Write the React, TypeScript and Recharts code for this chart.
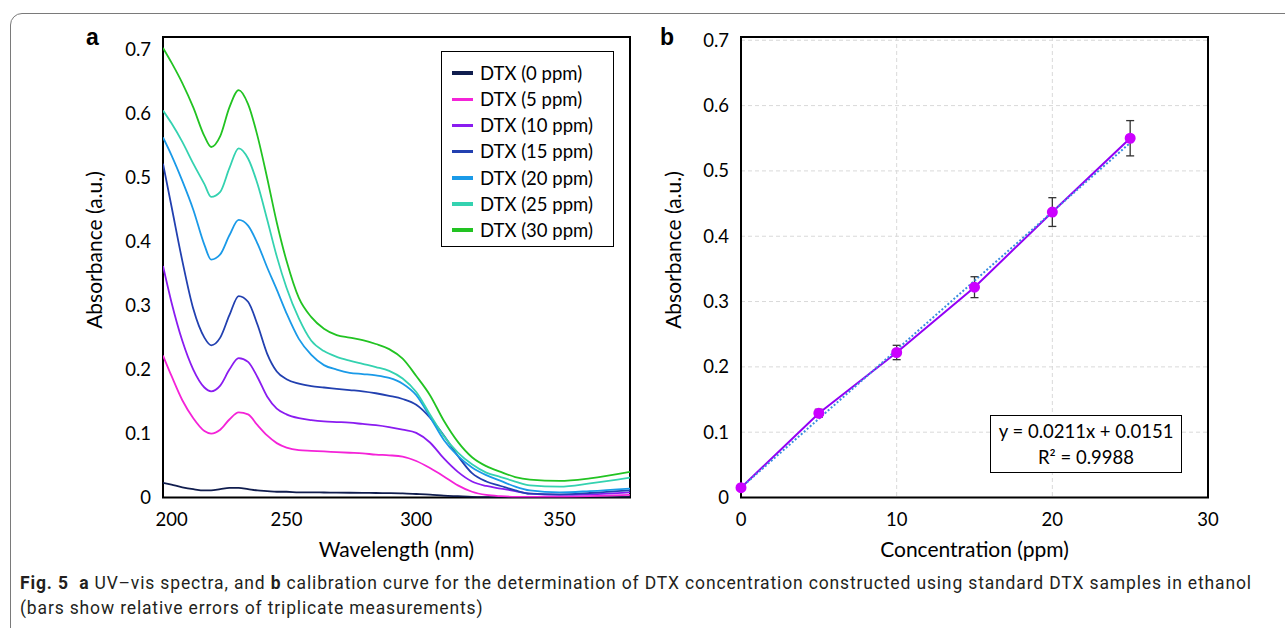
import React from "react";
import {
  LineChart,
  ComposedChart,
  Line,
  XAxis,
  YAxis,
  Legend,
  ReferenceArea,
  CartesianGrid,
  ErrorBar,
} from "recharts";

// ---- panel a: UV-vis spectra ----
const wavelengths = [
  196, 200, 205, 210, 215, 218, 222, 226, 230, 234, 238, 242, 246, 250, 255, 260, 265, 270, 275, 280,
  285, 290, 295, 300, 305, 310, 315, 320, 325, 330, 335, 340, 350, 360, 373,
];
const dtx0 = [
  0.023, 0.02, 0.016, 0.013, 0.011, 0.011, 0.013, 0.015, 0.015, 0.013, 0.011, 0.01, 0.009, 0.009, 0.008, 0.008,
  0.0078, 0.0076, 0.0074, 0.0072, 0.007, 0.0068, 0.0064, 0.0055, 0.0045, 0.003, 0.002, 0.001, 0.0005, 0.0002, 0,
  0, 0, 0, 0.001,
];
const dtx5 = [
  0.222, 0.19, 0.152, 0.124, 0.104, 0.1, 0.106, 0.122, 0.133, 0.13, 0.113, 0.097, 0.085, 0.078, 0.074, 0.073,
  0.072, 0.071, 0.07, 0.069, 0.067, 0.066, 0.064, 0.057, 0.046, 0.033, 0.019, 0.009, 0.004, 0.002, 0.001, 0.001,
  0.001, 0.002, 0.004,
];
const dtx10 = [
  0.362, 0.305, 0.245, 0.2, 0.172, 0.166, 0.175, 0.2, 0.218, 0.212, 0.188, 0.158, 0.139, 0.13, 0.124, 0.121,
  0.119, 0.118, 0.117, 0.115, 0.113, 0.11, 0.106, 0.101, 0.086, 0.061, 0.04, 0.025, 0.018, 0.014, 0.01, 0.006,
  0.004, 0.005, 0.008,
];
const dtx15 = [
  0.522, 0.455, 0.37, 0.295, 0.25, 0.238, 0.25, 0.285, 0.315, 0.306, 0.27, 0.225, 0.197, 0.185, 0.178, 0.174,
  0.172, 0.17, 0.168, 0.166, 0.163, 0.159, 0.154, 0.145, 0.125, 0.097, 0.065, 0.038, 0.025, 0.018, 0.011, 0.006,
  0.005, 0.007, 0.011,
];
const dtx20 = [
  0.563, 0.535, 0.495, 0.45, 0.395, 0.372, 0.38, 0.41, 0.434, 0.425, 0.397, 0.36, 0.325, 0.288, 0.248, 0.223,
  0.207, 0.2, 0.195, 0.193, 0.191, 0.187, 0.178, 0.16, 0.126, 0.09, 0.065, 0.047, 0.035, 0.026, 0.017, 0.011,
  0.008, 0.01, 0.014,
];
const dtx25 = [
  0.605, 0.585, 0.556, 0.522, 0.49, 0.47, 0.478, 0.515, 0.546, 0.53, 0.49, 0.435, 0.377, 0.328, 0.28, 0.245,
  0.229, 0.22, 0.214, 0.209, 0.204, 0.198, 0.186, 0.165, 0.13, 0.096, 0.07, 0.052, 0.039, 0.032, 0.025, 0.019,
  0.017, 0.022, 0.031,
];
const dtx30 = [
  0.703, 0.68, 0.648, 0.61, 0.565, 0.548, 0.565, 0.61, 0.637, 0.615, 0.565, 0.5, 0.43, 0.37, 0.312, 0.282,
  0.264, 0.254, 0.25, 0.246, 0.24, 0.232, 0.217, 0.19, 0.16, 0.12, 0.087, 0.063, 0.049, 0.04, 0.032, 0.028,
  0.026, 0.03, 0.04,
];
const spectraTicksX = [200, 250, 300, 350];
const absTicks = [0, 0.1, 0.2, 0.3, 0.4, 0.5, 0.6, 0.7];

const seriesA = [
  { key: "c0", name: "DTX (0 ppm)", values: dtx0, color: "#101d4e" },
  { key: "c5", name: "DTX (5 ppm)", values: dtx5, color: "#f423d8" },
  { key: "c10", name: "DTX (10 ppm)", values: dtx10, color: "#8a1cf0" },
  { key: "c15", name: "DTX (15 ppm)", values: dtx15, color: "#2240b0" },
  { key: "c20", name: "DTX (20 ppm)", values: dtx20, color: "#1a9ae8" },
  { key: "c25", name: "DTX (25 ppm)", values: dtx25, color: "#34d2b0" },
  { key: "c30", name: "DTX (30 ppm)", values: dtx30, color: "#22c322" },
];
const legendOrder = seriesA.map((s) => s.name);

const spectra = wavelengths.map((nm, i) => {
  const row: Record<string, number> = { nm };
  seriesA.forEach((s) => (row[s.key] = s.values[i]));
  return row;
});

// ---- panel b: calibration ----
const conc = [0, 5, 10, 15, 20, 25];
const absorbance = [0.015, 0.129, 0.222, 0.322, 0.437, 0.55];
const absError = [0.002, 0.006, 0.011, 0.016, 0.022, 0.027];
const trendConc = [0, 25];
const trendAbs = [0.015, 0.543];
const concTicks = [0, 10, 20, 30];

const calib = conc.map((c, i) => ({ conc: c, abs: absorbance[i], err: absError[i] }));
const trend = trendConc.map((c, i) => ({ conc: c, fit: trendAbs[i] }));

// Excel put the wavelengths on a category axis, so they are not evenly spaced.
// A power scale gets the tick spacing close enough.
function powerScale(exponent: number): any {
  let dom = [0, 1];
  let rng = [0, 1];
  const f = (v: number) => Math.pow(v, exponent);
  const scale: any = (v: number) => {
    const t = (f(Number(v)) - f(dom[0])) / (f(dom[1]) - f(dom[0]));
    return rng[0] + t * (rng[1] - rng[0]);
  };
  scale.domain = (d?: any[]) => {
    if (!d) return dom.slice();
    dom = d.map(Number);
    return scale;
  };
  scale.range = (r?: any[]) => {
    if (!r) return rng.slice();
    rng = r.map(Number);
    return scale;
  };
  scale.invert = (p: number) => {
    const t = (p - rng[0]) / (rng[1] - rng[0]);
    return Math.pow(f(dom[0]) + t * (f(dom[1]) - f(dom[0])), 1 / exponent);
  };
  scale.ticks = () => {
    const out: number[] = [];
    for (let v = Math.ceil(dom[0] / 50) * 50; v <= dom[1]; v += 50) out.push(v);
    return out;
  };
  scale.tickFormat = () => (v: number) => String(v);
  scale.copy = () => powerScale(exponent).domain(dom).range(rng);
  scale.nice = () => scale;
  scale.clamp = () => scale;
  return scale;
}

const FONT = "Lato, 'Open Sans', sans-serif";
const tickStyle = { fontSize: 18.5, fill: "#000", fontFamily: FONT };
const titleStyle: React.CSSProperties = { fontSize: 21, fontFamily: FONT, color: "#000", whiteSpace: "nowrap" };

function SpectraLegend(props: any) {
  const payload = [...(props.payload || [])].sort(
    (a: any, b: any) => legendOrder.indexOf(a.value) - legendOrder.indexOf(b.value)
  );
  return (
    <div
      style={{
        border: "1.5px solid #000",
        width: 173,
        height: 196,
        boxSizing: "border-box",
        padding: "8px 0 0 10px",
        background: "#fff",
      }}
    >
      {payload.map((p: any) => (
        <div key={p.value} style={{ display: "flex", alignItems: "center", height: 26.2 }}>
          <span style={{ width: 21, height: 3.5, background: p.color, marginRight: 7 }} />
          <span style={{ fontSize: 18.5, fontFamily: FONT, color: "#000", lineHeight: 1 }}>{p.value}</span>
        </div>
      ))}
    </div>
  );
}

function YTitle({ x, y, text }: { x: number; y: number; text: string }) {
  return (
    <div
      style={{
        ...titleStyle,
        position: "absolute",
        left: x,
        top: y,
        transform: "translate(-50%, -50%) rotate(-90deg)",
      }}
    >
      {text}
    </div>
  );
}

function PanelLetter({ x, text }: { x: number; text: string }) {
  return (
    <div
      style={{
        position: "absolute",
        left: x,
        top: 24,
        fontFamily: "'Liberation Sans', Arial, sans-serif",
        fontWeight: 700,
        fontSize: 23,
        color: "#000",
      }}
    >
      {text}
    </div>
  );
}

export default function App() {
  const xScaleA = powerScale(1.6);
  return (
    <div style={{ position: "absolute", left: 0, top: 0, width: 1285, height: 628, background: "#fff", overflow: "hidden" }}>
      {/* figure frame */}
      <div
        style={{
          position: "absolute",
          left: 10,
          top: 13,
          width: 1300,
          height: 700,
          border: "1.5px solid #7a7a7a",
          borderRadius: 12,
          boxSizing: "border-box",
        }}
      />

      <PanelLetter x={86} text="a" />
      <PanelLetter x={660} text="b" />
      <YTitle x={93} y={250} text="Absorbance (a.u.)" />
      <YTitle x={672} y={250} text="Absorbance (a.u.)" />

      <div style={{ position: "absolute", left: 0, top: 0 }}>
        <LineChart width={660} height={600} data={spectra} margin={{ top: 37, right: 30, bottom: 42.5, left: 0 }}>
          <XAxis
            dataKey="nm"
            type="number"
            scale={xScaleA}
            domain={[196, 373]}
            allowDataOverflow
            ticks={spectraTicksX}
            tick={tickStyle}
            tickLine={false}
            tickSize={0}
            tickMargin={15}
            axisLine={false}
            height={60}
            label={{ value: "Wavelength (nm)", position: "insideBottom", offset: 1, style: { fontSize: 21, fontFamily: FONT, fill: "#000" } }}
          />
          <YAxis
            type="number"
            domain={[0, 0.72]}
            allowDataOverflow
            ticks={absTicks}
            tick={tickStyle}
            tickLine={false}
            tickSize={0}
            tickMargin={12}
            axisLine={false}
            width={163}
          />
          {seriesA.map((s) => (
            <Line
              key={s.key}
              type="monotone"
              dataKey={s.key}
              name={s.name}
              stroke={s.color}
              strokeWidth={1.8}
              dot={false}
              isAnimationActive={false}
            />
          ))}
          <ReferenceArea x1={196} x2={373} y1={0} y2={0.72} fill="none" stroke="#000" strokeWidth={2} />
          <Legend
            layout="horizontal"
            verticalAlign="middle"
            align="center"
            wrapperStyle={{ position: "absolute", left: 441, top: 51, width: 173, height: 196 }}
            content={SpectraLegend}
          />
        </LineChart>
      </div>

      <div style={{ position: "absolute", left: 640, top: 0 }}>
        <ComposedChart width={600} height={600} data={calib} margin={{ top: 37, right: 32, bottom: 42.5, left: 0 }}>
          <CartesianGrid stroke="#d9d9d9" strokeDasharray="4 3" />
          <XAxis
            dataKey="conc"
            type="number"
            domain={[0, 30]}
            ticks={concTicks}
            tick={tickStyle}
            tickLine={false}
            tickSize={0}
            tickMargin={15}
            axisLine={false}
            height={60}
            label={{ value: "Concentration (ppm)", position: "insideBottom", offset: 1, style: { fontSize: 21, fontFamily: FONT, fill: "#000" } }}
          />
          <YAxis
            type="number"
            domain={[0, 0.705]}
            allowDataOverflow
            ticks={absTicks}
            tick={tickStyle}
            tickLine={false}
            tickSize={0}
            tickMargin={12}
            axisLine={false}
            width={101}
          />
          <Line
            type="linear"
            dataKey="abs"
            stroke="#9400f5"
            strokeWidth={2}
            dot={{ r: 4.5, fill: "#cc00ff", stroke: "#cc00ff" }}
            isAnimationActive={false}
          >
            <ErrorBar dataKey="err" direction="y" width={4} stroke="#333" strokeWidth={1.3} />
          </Line>
          <Line
            type="linear"
            data={trend}
            dataKey="fit"
            stroke="#3a8ee0"
            strokeWidth={2}
            strokeDasharray="2 2"
            dot={false}
            isAnimationActive={false}
          />
          <ReferenceArea x1={0} x2={30} y1={0} y2={0.705} fill="none" stroke="#000" strokeWidth={2} />
        </ComposedChart>
      </div>

      {/* regression equation box */}
      <div
        style={{
          position: "absolute",
          left: 990,
          top: 415,
          width: 192,
          height: 58,
          border: "1.5px solid #000",
          boxSizing: "border-box",
          background: "#fff",
          fontFamily: FONT,
          fontSize: 18.5,
          color: "#000",
          textAlign: "center",
          lineHeight: "26px",
          paddingTop: 2,
        }}
      >
        y = 0.0211x + 0.0151
        <br />
        R² = 0.9988
      </div>

      {/* caption */}
      <div
        style={{
          position: "absolute",
          left: 20,
          top: 571,
          width: 1260,
          fontFamily: "Roboto, 'Open Sans', sans-serif",
          fontSize: 17.5,
          letterSpacing: 0.85,
          lineHeight: "25px",
          color: "#231f20",
          whiteSpace: "nowrap",
        }}
      >
        <b>Fig. 5</b>&nbsp;&nbsp;<b>a</b> UV–vis spectra, and <b>b</b> calibration curve for the determination of DTX
        concentration constructed using standard DTX samples in ethanol
        <br />
        (bars show relative errors of triplicate measurements)
      </div>
    </div>
  );
}
